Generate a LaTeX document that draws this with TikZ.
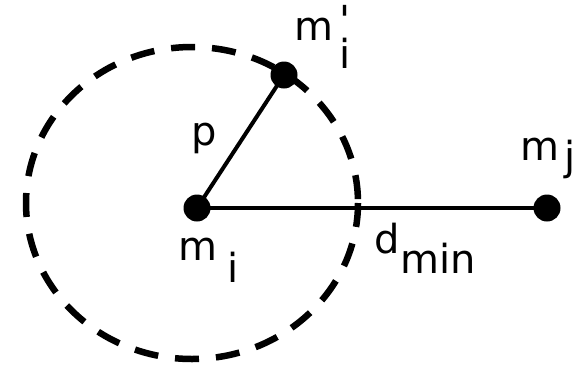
\documentclass[tikz,border=0pt]{standalone}
\usepackage{fontspec}
\newfontfamily\lblfont{DejaVu Sans}
\tikzset{
  lbl/.style={font=\lblfont\fontsize{40}{44}\selectfont, inner sep=0pt, anchor=base west},
  dotnode/.style={circle, fill=black, minimum size=27pt, inner sep=0pt},
  seg/.style={line width=4pt},
  rim/.style={line width=6.5pt, dash pattern=on 24pt off 17pt}
}
\begin{document}
\begin{tikzpicture}[x=1pt,y=-1pt]
\useasboundingbox (0,0) rectangle (586,370);
\draw[rim] (192,203) ellipse [x radius=166, y radius=156];
\node[dotnode] (mi) at (197,208) {};
\node[dotnode] (mip) at (284,75) {};
\node[dotnode] (mj) at (547,208) {};
\draw[seg] (mi.center) -- (mip.center);
\draw[seg] (mi.center) -- (mj.center);
\node[lbl] (lmip) at (294,40) {m\hspace{6pt}\raisebox{-28pt}{i}\llap{\raisebox{6pt}{'}}};
\node[lbl] (lp) at (191.5,145) {p};
\node[lbl] (lmi) at (178.5,260) {m\hspace{9.5pt}\raisebox{-22pt}{i}};
\node[lbl] (ld) at (374,253) {d\hspace{1pt}\raisebox{-20pt}{min}};
\node[lbl] (lmj) at (520,160) {m\hspace{5pt}\raisebox{-10pt}{j}};
\end{tikzpicture}
\end{document}
